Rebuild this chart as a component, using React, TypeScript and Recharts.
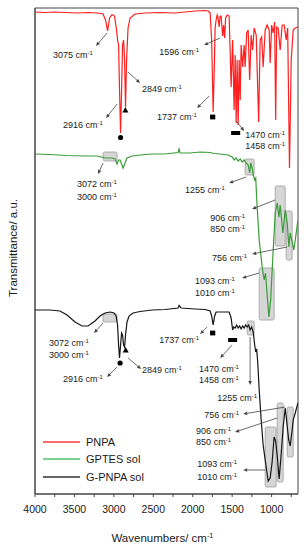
import {
  LineChart,
  Line,
  XAxis,
  YAxis,
  ReferenceArea,
  ReferenceLine,
  ReferenceDot,
  Legend,
  Label,
} from "recharts";

const FONT = "'Liberation Sans', Arial, sans-serif";
const INK = "#1a1a1a";

// x axis ticks (cm-1), labels only every 500
const xTicks = [4000, 3750, 3500, 3250, 3000, 2750, 2500, 2250, 2000, 1750, 1500, 1250, 1000, 750];

// PNPA
const pnpaWn = [4000, 3873, 3746, 3619, 3467, 3327, 3200, 3137, 3105, 3080, 3054, 3023, 2991, 2966, 2953, 2940, 2928, 2915, 2902, 2890, 2877, 2864, 2852, 2839, 2820, 2794, 2731, 2604, 2414, 2223, 2097, 1970, 1843, 1805, 1779, 1760, 1741, 1724, 1716, 1703, 1690, 1678, 1665, 1652, 1640, 1621, 1608, 1595, 1583, 1563, 1538, 1513, 1494, 1475, 1462, 1449, 1437, 1424, 1411, 1398, 1386, 1367, 1348, 1335, 1316, 1297, 1278, 1259, 1240, 1221, 1195, 1164, 1145, 1126, 1107, 1081, 1056, 1031, 1018, 999, 980, 961, 948, 935, 916, 891, 866, 840, 815, 796, 773, 751, 726, 701, 666];
const pnpaT = [482, 481.5, 482, 481.5, 481, 481.5, 481, 480, 474, 463, 476, 479.5, 478, 464, 454, 449, 404, 361, 404, 449, 454, 434, 387, 434, 466, 476, 480, 481, 481.5, 481, 482, 483, 483.5, 483, 481, 454, 382, 434, 466, 474, 479, 476, 467, 478, 478, 458, 469, 456, 476, 479, 478, 407, 454, 384, 439, 371, 434, 369, 434, 394, 449, 427, 449, 427, 461, 464, 414, 459, 444, 466, 459, 372, 454, 457, 427, 464, 469, 464, 431, 469, 461, 472, 374, 467, 466, 444, 469, 469, 454, 466, 326, 434, 464, 466, 467];

// GPTES sol
const gptesWn = [4000, 3810, 3594, 3365, 3213, 3112, 3023, 2985, 2959, 2940, 2921, 2883, 2858, 2833, 2769, 2668, 2515, 2350, 2185, 2173, 2160, 2033, 1906, 1779, 1741, 1652, 1551, 1500, 1475, 1449, 1424, 1398, 1373, 1348, 1322, 1297, 1278, 1265, 1246, 1233, 1214, 1201, 1183, 1157, 1119, 1094, 1077, 1056, 1034, 1012, 984, 954, 929, 907, 891, 857, 827, 802, 780, 764, 717, 666];
const gptesT = [340, 339.5, 338.5, 338, 338, 336, 336, 335, 330, 334, 334, 326, 331, 336, 338, 339, 340, 340, 341.5, 345, 341, 341, 342, 341.5, 340.5, 340, 339, 337, 334, 336, 333, 335, 332, 334, 331, 329, 321, 331, 326, 319, 314, 316, 287, 254, 227, 214, 221, 199, 177, 194, 237, 281, 291, 277, 289, 261, 284, 271, 247, 261, 244, 274];

// G-PNPA sol
const gpnpaWn = [4000, 3810, 3683, 3594, 3492, 3404, 3327, 3239, 3175, 3112, 3048, 2997, 2972, 2953, 2940, 2928, 2915, 2902, 2890, 2877, 2864, 2852, 2833, 2807, 2756, 2668, 2515, 2350, 2185, 2173, 2147, 1970, 1843, 1779, 1760, 1741, 1722, 1703, 1627, 1538, 1513, 1494, 1481, 1462, 1443, 1424, 1405, 1386, 1367, 1348, 1329, 1310, 1291, 1272, 1253, 1233, 1214, 1201, 1189, 1176, 1157, 1132, 1107, 1081, 1043, 1018, 993, 968, 949, 929, 904, 879, 853, 827, 802, 783, 764, 739, 726, 700, 666];
const gpnpaT = [184, 184, 183, 179, 172, 168, 168, 173, 178, 181, 182, 181, 178, 169, 149, 136, 149, 161, 159, 149, 147, 159, 172, 178, 181, 182.5, 184, 184.5, 186, 188.5, 186, 185, 184.5, 183, 178, 169, 178, 182, 182, 182, 176, 164, 167, 166, 169, 166, 168, 165, 168, 166, 169, 167, 169, 164, 167, 162, 149, 142, 145, 132, 104, 74, 49, 34, 13, 16, 32, 57, 53, 39, 15, 39, 67, 86, 68, 54, 48, 64, 74, 81, 91];

const toPoints = (wn: number[], t: number[]) => wn.map((w, i) => ({ wn: w, t: t[i] }));

const series = [
  { name: "PNPA", color: "#ff1f1f", legend: "#ff3b3b", data: toPoints(pnpaWn, pnpaT) },
  { name: "GPTES sol", color: "#3a9c3a", legend: "#4cc070", data: toPoints(gptesWn, gptesT) },
  { name: "G-PNPA sol", color: "#151515", legend: "#333", data: toPoints(gpnpaWn, gpnpaT) },
];

// peak labels: wavenumber text, placed at (wn, a.u.) = left edge / vertical middle
const peakLabels = [
  { text: "3075", wn: 3772, v: 439 },
  { text: "2849", wn: 2642, v: 405 },
  { text: "2916", wn: 3645, v: 369 },
  { text: "1596", wn: 2426, v: 442 },
  { text: "1737", wn: 2452, v: 377 },
  { text: "1470", wn: 1335, v: 359 },
  { text: "1458", wn: 1335, v: 348 },
  { text: "3072", wn: 3467, v: 310 },
  { text: "3000", wn: 3467, v: 297 },
  { text: "1255", wn: 2097, v: 304 },
  { text: "906", wn: 1779, v: 276 },
  { text: "850", wn: 1779, v: 265 },
  { text: "756", wn: 1754, v: 236 },
  { text: "1093", wn: 1970, v: 213 },
  { text: "1010", wn: 1970, v: 201 },
  { text: "3072", wn: 3822, v: 151 },
  { text: "3000", wn: 3822, v: 139 },
  { text: "2916", wn: 3645, v: 115 },
  { text: "2849", wn: 2642, v: 124 },
  { text: "1737", wn: 2426, v: 154 },
  { text: "1470", wn: 1919, v: 125 },
  { text: "1458", wn: 1919, v: 114 },
  { text: "1255", wn: 1690, v: 96 },
  { text: "756", wn: 1855, v: 79 },
  { text: "906", wn: 1957, v: 63 },
  { text: "850", wn: 1957, v: 52 },
  { text: "1093", wn: 1944, v: 30 },
  { text: "1010", wn: 1944, v: 17 },
];

const arrows = [
  [3086, 461, 3226, 448],
  [2820, 422, 2668, 411],
  [2959, 390, 3099, 376],
  [1652, 456, 1855, 449],
  [1792, 398, 1944, 386],
  [1449, 373, 1348, 363],
  [3137, 331, 3201, 320],
  [1322, 317, 1538, 311],
  [954, 294, 1246, 285],
  [802, 247, 1246, 240],
  [1157, 221, 1373, 216],
  [3137, 171, 3251, 161],
  [2959, 127, 3086, 117],
  [2820, 136, 2655, 125],
  [1817, 167, 1906, 160],
  [1500, 149, 1652, 136],
  [1272, 157, 1272, 109],
  [827, 87, 1360, 80],
  [929, 76, 1462, 62],
  [1081, 24, 1360, 24],
];

const boxes = [
  [3137, 2959, 333, 342],
  [1335, 1221, 319, 335],
  [954, 827, 248, 308],
  [815, 739, 234, 283],
  [1157, 967, 174, 226],
  [3137, 2959, 172, 180],
  [1310, 1221, 159, 173],
  [1081, 942, 7, 67],
  [929, 853, 12, 91],
  [802, 726, 37, 87],
];

const markers = [
  { kind: "circle", wn: 2915, v: 356.5 },
  { kind: "triangle", wn: 2854, v: 384 },
  { kind: "square", wn: 1747, v: 377 },
  { kind: "circle", wn: 2921, v: 131 },
  { kind: "triangle", wn: 2850, v: 144 },
  { kind: "square", wn: 1747, v: 161 },
];
const bars = [
  [1513, 1398, 359, 363],
  [1551, 1437, 152, 156],
];

const PeakText = ({ cx, cy, text }: any) => (
  <text x={cx} y={cy + 3.2} fontSize={9} fill={INK} fontFamily={FONT}>
    {text} cm
    <tspan fontSize={6} dy={-3.5}>-1</tspan>
  </text>
);

const Arrow = ({ x1, y1, x2, y2 }: any) => {
  const a = Math.atan2(y2 - y1, x2 - x1);
  const L = 4;
  const W = 1.8;
  const bx = x2 - L * Math.cos(a);
  const by = y2 - L * Math.sin(a);
  const pts = `${x2},${y2} ${bx + W * Math.sin(a)},${by - W * Math.cos(a)} ${bx - W * Math.sin(a)},${by + W * Math.cos(a)}`;
  return (
    <g>
      <line x1={x1} y1={y1} x2={bx} y2={by} stroke="#444" strokeWidth={0.8} />
      <polygon points={pts} fill="#444" />
    </g>
  );
};

const GrayBox = ({ x, y, width, height }: any) => (
  <rect x={x} y={y} width={width} height={height} rx={1.5} fill="#c4c4c4" fillOpacity={0.7} stroke="#a0a0a0" strokeWidth={0.8} />
);

const Marker = ({ cx, cy, kind }: any) => {
  if (kind === "circle") return <circle cx={cx} cy={cy} r={2.6} fill="#000" />;
  if (kind === "triangle")
    return <polygon points={`${cx},${cy - 3} ${cx - 3},${cy + 2.5} ${cx + 3},${cy + 2.5}`} fill="#000" />;
  return <rect x={cx - 2.6} y={cy - 2.4} width={5.2} height={4.8} fill="#000" />;
};

// legend in series order (PNPA first)
const LegendBox = () => (
  <div style={{ fontFamily: FONT, fontSize: 11, color: INK }}>
    {series.map((s) => (
      <div key={s.name} style={{ display: "flex", alignItems: "center", height: 17.5 }}>
        <svg width={37} height={4} style={{ marginRight: 6 }}>
          <line x1={0} y1={2} x2={37} y2={2} stroke={s.legend} strokeWidth={1.5} />
        </svg>
        <span>{s.name}</span>
      </div>
    ))}
  </div>
);

const XTitle = ({ viewBox }: any) => {
  const { x, y, width } = viewBox;
  return (
    <text x={x + width / 2 - 4} y={y + 48} textAnchor="middle" fontSize={11.5} fill={INK} fontFamily={FONT}>
      Wavenumbers/ cm
      <tspan fontSize={7.5} dy={-4.5}>-1</tspan>
    </text>
  );
};

const YTitle = ({ viewBox }: any) => {
  const { y, height } = viewBox;
  const cx = 13;
  const cy = y + height / 2 - 3;
  return (
    <text x={cx} y={cy} transform={`rotate(-90 ${cx} ${cy})`} textAnchor="middle" dominantBaseline="central" fontSize={11.5} fill={INK} fontFamily={FONT}>
      Transmittance/ a.u.
    </text>
  );
};

export default function App() {
  return (
    <div style={{ position: "absolute", left: 0, top: 0 }}>
      <LineChart width={304} height={550} margin={{ top: 8, right: 6, bottom: 0, left: 0 }}>
        <XAxis
          type="number"
          dataKey="wn"
          domain={[665, 4000]}
          allowDataOverflow
          reversed
          ticks={xTicks}
          interval={0}
          tickFormatter={(v: number) => (v % 500 === 0 ? String(v) : "")}
          height={56}
          tickSize={3}
          tickMargin={9}
          stroke="#444"
          tick={{ fontSize: 10.5, fill: INK, fontFamily: FONT }}
        >
          <Label content={<XTitle />} />
        </XAxis>
        <YAxis type="number" domain={[0, 486]} allowDataOverflow width={35} tick={false} tickLine={false} stroke="#444">
          <Label content={<YTitle />} />
        </YAxis>
        <ReferenceArea x1={665} x2={4000} y1={0} y2={486} fill="none" stroke="#444" strokeWidth={1} />
        {boxes.map(([a, b, c, d], i) => (
          <ReferenceArea key={`b${i}`} x1={a} x2={b} y1={c} y2={d} shape={<GrayBox />} />
        ))}
        {series.map((s) => (
          <Line
            key={s.name}
            data={s.data}
            dataKey="t"
            name={s.name}
            type="linear"
            stroke={s.color}
            strokeWidth={1.2}
            dot={false}
            activeDot={false}
            isAnimationActive={false}
          />
        ))}
        {bars.map(([a, b, c, d], i) => (
          <ReferenceArea key={`r${i}`} x1={a} x2={b} y1={c} y2={d} fill="#000" fillOpacity={1} stroke="none" />
        ))}
        {markers.map((m, i) => (
          <ReferenceDot key={`m${i}`} x={m.wn} y={m.v} r={3} shape={(p: any) => <Marker {...p} kind={m.kind} />} />
        ))}
        {arrows.map(([a, b, c, d], i) => (
          <ReferenceLine key={`a${i}`} segment={[{ x: a, y: b }, { x: c, y: d }]} shape={<Arrow />} />
        ))}
        {peakLabels.map((l, i) => (
          <ReferenceDot key={`t${i}`} x={l.wn} y={l.v} r={1} shape={(p: any) => <PeakText {...p} text={l.text} />} />
        ))}
        <Legend
          layout="vertical"
          align="center"
          verticalAlign="middle"
          content={<LegendBox />}
          wrapperStyle={{ position: "absolute", left: 43, top: 433, width: 120 }}
        />
      </LineChart>
    </div>
  );
}
